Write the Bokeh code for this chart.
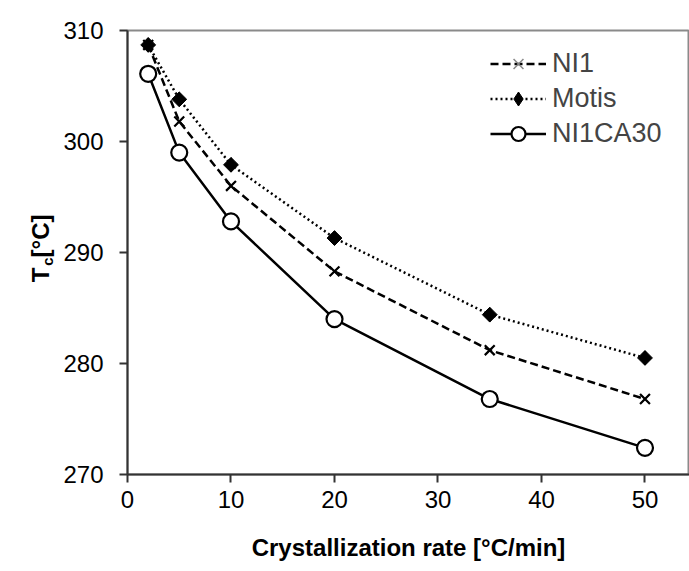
import math
from bokeh.plotting import figure
from bokeh.layouts import row
from bokeh.models import Range1d, Legend, LegendItem, FixedTicker
from bokeh.core.properties import value
from bokeh.embed import file_html
from bokeh.resources import INLINE

# ---- data ----
rates = [2, 5, 10, 20, 35, 50]
ni1 = [308.7, 301.8, 296.0, 288.3, 281.2, 276.8]
motis = [308.7, 303.8, 297.9, 291.3, 284.4, 280.5]
ni1ca30 = [306.1, 299.0, 292.8, 284.0, 276.8, 272.4]
x_ticks = [0, 10, 20, 30, 40, 50]
y_ticks = [270, 280, 290, 300, 310]
series_names = ["NI1", "Motis", "NI1CA30"]
x_title = "Crystallization rate [°C/min]"
y_title_parts = ["T", "c", "[°C]"]

# ---- layout ----
W, H = 689, 571
SIDE = 60                  # width of the strip holding the y title
LEFT, TOP, BOTTOM = 126, 30, 97
FH = H - TOP - BOTTOM
X0, X1 = 0, 54.3
Y0, Y1 = 270, 310
FONT = "Liberation Sans"

# strip with the rotated y-axis title (T with subscript c);
# its frame is aligned with the main frame by the row layout
side = figure(width=SIDE, height=H, output_backend="svg", toolbar_location=None,
              x_range=Range1d(0, SIDE), y_range=Range1d(TOP + FH, TOP),
              min_border_left=0, min_border_right=0,
              min_border_top=TOP, min_border_bottom=BOTTOM,
              outline_line_color=None,
              background_fill_color="white", border_fill_color="white")
side.axis.visible = False
side.grid.visible = False
title_pos = [(40, 274.5, "24px"), (47, 261, "15px"), (40, 235.5, "24px")]
for txt, (px, py, size) in zip(y_title_parts, title_pos):
    side.text(x=[px], y=[py], text=[txt], angle=math.pi / 2,
              text_font=value(FONT), text_font_style="bold",
              text_font_size=size, text_color="black",
              text_align="center", text_baseline="middle")

p = figure(width=W - SIDE, height=H, output_backend="svg", toolbar_location=None,
           x_range=Range1d(X0, X1), y_range=Range1d(Y0, Y1),
           min_border_left=LEFT - SIDE, min_border_right=0,
           min_border_top=TOP, min_border_bottom=BOTTOM,
           background_fill_color="white", border_fill_color="white")

p.grid.visible = False
p.outline_line_color = "#8a8a8a"
p.outline_line_width = 2

r1 = p.line(rates, ni1, line_dash="8 4", line_width=2.5, color="black")
r2 = p.line(rates, motis, line_dash="2 3", line_width=2.5, color="black")
r3 = p.line(rates, ni1ca30, line_width=2.5, color="black")
# legend swatch markers, drawn first so the plotted markers cover them
k1 = p.scatter(rates, ni1, marker="x", size=11, line_width=1.5, color="#888888")
k2 = p.scatter(rates, motis, marker="diamond", size=14, color="black")
s1 = p.scatter(rates, ni1, marker="x", size=14, line_width=2.2, color="black")
s2 = p.scatter(rates, motis, marker="square", angle=math.pi / 4, size=10.5, color="black")
s3 = p.scatter(rates, ni1ca30, marker="circle", size=16, fill_color="white",
               line_color="black", line_width=2.2)

legend = Legend(items=[LegendItem(label=series_names[0], renderers=[r1, k1]),
                       LegendItem(label=series_names[1], renderers=[r2, k2]),
                       LegendItem(label=series_names[2], renderers=[r3, s3])],
                location=(489 - LEFT, H - BOTTOM - TOP - 121),
                border_line_color=None, background_fill_alpha=0,
                label_text_font=FONT, label_text_font_size="27px",
                glyph_width=56, glyph_height=35, label_height=35,
                spacing=0, padding=0, margin=0, label_standoff=6)
p.add_layout(legend)

for ax in (p.xaxis[0], p.yaxis[0]):
    ax.major_tick_out = 8
    ax.major_tick_in = 0
    ax.minor_tick_out = 0
    ax.minor_tick_in = 0
    ax.axis_line_width = 2
    ax.axis_line_color = "#333333"
    ax.major_tick_line_width = 2
    ax.major_tick_line_color = "#333333"
    ax.major_label_text_font = FONT
    ax.major_label_text_font_size = "24px"
    ax.major_label_text_color = "black"

p.xaxis.ticker = FixedTicker(ticks=x_ticks)
p.yaxis.ticker = FixedTicker(ticks=y_ticks)
p.xaxis.major_label_standoff = 8
p.yaxis.major_label_standoff = 16

p.xaxis.axis_label = x_title
p.xaxis.axis_label_text_font = FONT
p.xaxis.axis_label_text_font_style = "bold"
p.xaxis.axis_label_text_font_size = "24px"
p.xaxis.axis_label_text_color = "black"
p.xaxis.axis_label_standoff = 23

layout = row(side, p, spacing=0)
open("out.html", "w").write(file_html(layout, INLINE))
